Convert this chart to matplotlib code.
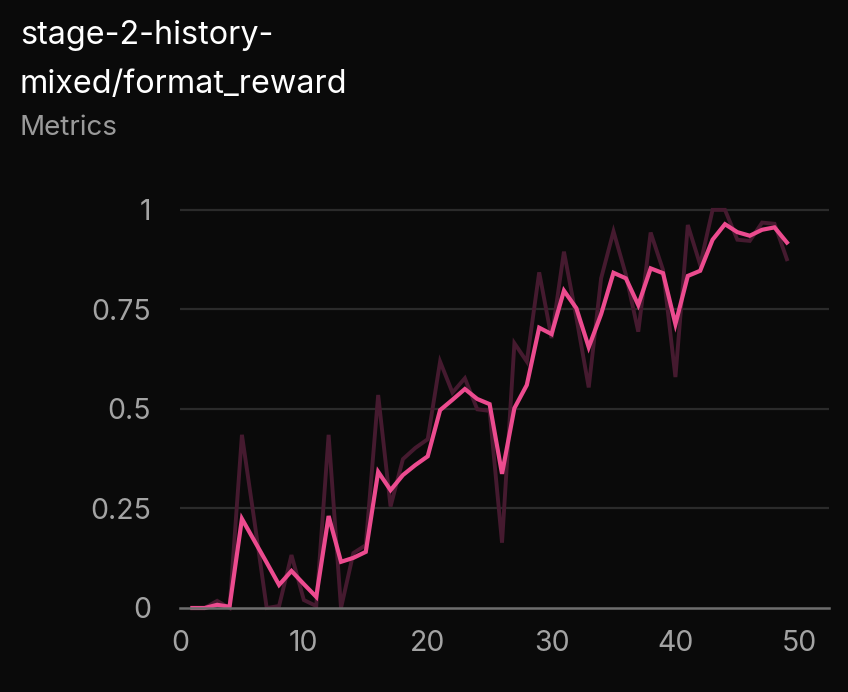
import matplotlib
matplotlib.use("Agg")
import matplotlib.pyplot as plt
from matplotlib.ticker import FixedLocator, FixedFormatter

steps = list(range(1, 50))
raw = [0.0, 0.0, 0.018, 0.0, 0.435, 0.22, 0.0, 0.005, 0.133, 0.02,
       0.005, 0.435, 0.0, 0.138, 0.158, 0.535, 0.255, 0.374, 0.402, 0.424,
       0.619, 0.541, 0.577, 0.499, 0.495, 0.164, 0.665, 0.619, 0.843, 0.678,
       0.895, 0.73, 0.554, 0.828, 0.946, 0.837, 0.694, 0.943, 0.849, 0.580,
       0.962, 0.862, 1.0, 1.0, 0.925, 0.922, 0.968, 0.965, 0.876]
smooth = [0.0, 0.0, 0.008, 0.003, 0.224, 0.169, 0.114, 0.058, 0.093, 0.06,
          0.028, 0.231, 0.116, 0.126, 0.141, 0.342, 0.296, 0.334, 0.359, 0.381,
          0.497, 0.523, 0.550, 0.525, 0.512, 0.337, 0.502, 0.560, 0.704, 0.688,
          0.797, 0.753, 0.655, 0.738, 0.842, 0.828, 0.761, 0.853, 0.841, 0.713,
          0.834, 0.847, 0.925, 0.964, 0.944, 0.935, 0.950, 0.956, 0.918]
y_ticks = [0, 0.25, 0.5, 0.75, 1]
y_labels = ["0", "0.25", "0.5", "0.75", "1"]
x_ticks = [0, 10, 20, 30, 40, 50]
title = "stage-2-history-\nmixed/format_reward"
subtitle = "Metrics"

BG = "#0a0a0a"
PINK = "#ec4b8f"
RAW = "#451a2f"

plt.rcParams['font.family'] = ['Inter', 'DejaVu Sans']

W, H = 848, 692
fig = plt.figure(figsize=(W / 100, H / 100), dpi=100, facecolor=BG)
ax = fig.add_axes([180 / W, (H - 608) / H, (829 - 180) / W, (608 - 178) / H])
ax.set_facecolor(BG)

ax.set_xlim(0, 52.4)
ax.set_ylim(0, 1.08)

for yt in y_ticks[1:]:
    ax.axhline(yt, color="#2b2b2b", lw=1.6, zorder=1)

ax.plot(steps, raw, color=RAW, lw=2.8, zorder=2, clip_on=False, solid_joinstyle='miter')
ax.plot(steps, smooth, color=PINK, lw=3.0, zorder=3, clip_on=False, solid_joinstyle='miter')

for s in ["top", "right", "left"]:
    ax.spines[s].set_visible(False)
ax.spines["bottom"].set_color("#6e6e6e")
ax.spines["bottom"].set_linewidth(1.8)
ax.spines["bottom"].set_zorder(4)

ax.yaxis.set_major_locator(FixedLocator(y_ticks))
ax.yaxis.set_major_formatter(FixedFormatter(y_labels))
ax.set_xticks(x_ticks)
ax.tick_params(axis="both", length=0, colors="#a3a3a3", labelsize=20.5)
ax.tick_params(axis="y", pad=21)
ax.tick_params(axis="x", pad=16)

fig.text(20 / W, 1 - 20 / H, title, color="white", fontsize=23.3, va="top", ha="left",
         linespacing=1.75)
fig.text(20 / W, 1 - 128 / H, subtitle, color="#9a9a9a", fontsize=20, va="center", ha="left")

fig.savefig("out.png", dpi=100, facecolor=BG)
